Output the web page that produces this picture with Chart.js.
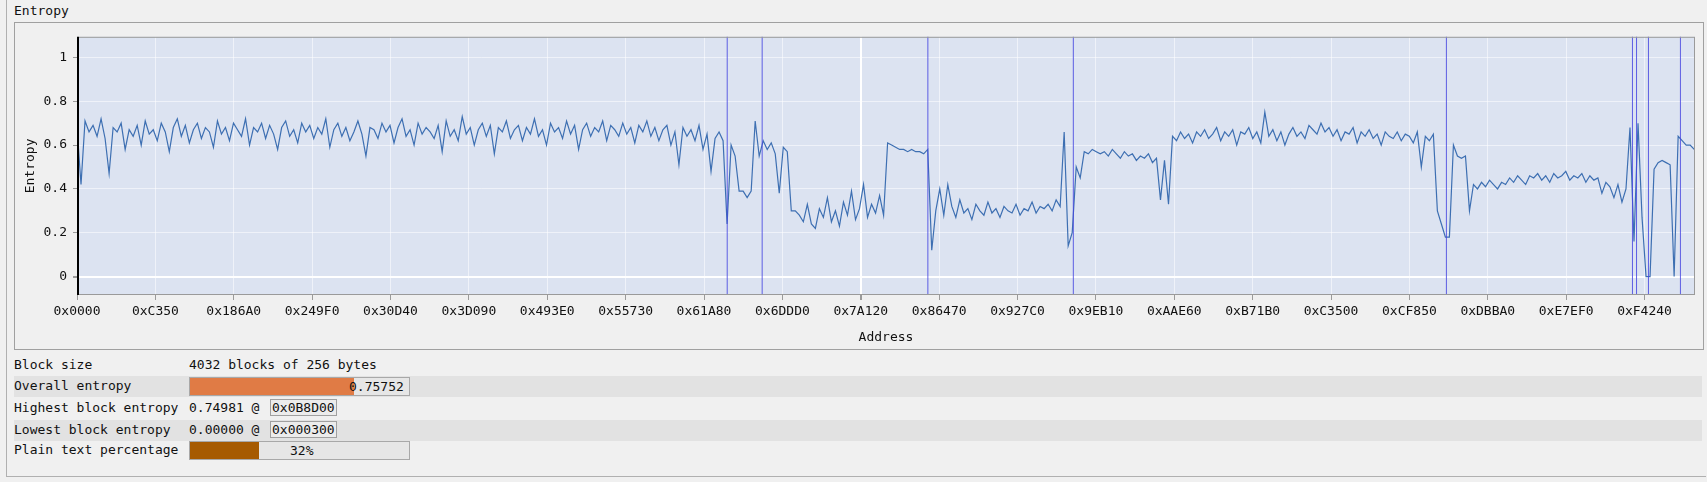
<!DOCTYPE html>
<html>
<head>
<meta charset="utf-8">
<script src="https://cdn.jsdelivr.net/npm/chart.js@4"></script>
<style>
  body { margin: 0; background: #f0f0f0; font-family: "DejaVu Sans Mono", monospace; font-size: 13px; color: #111; }
  #wrap { position: relative; width: 1707px; height: 482px; overflow: hidden; }
  .abs { position: absolute; white-space: pre; }
  #outer { left: 6px; top: 0; width: 1699px; height: 476px; border-left: 1px solid #b0b0b0; border-bottom: 1px solid #b0b0b0; }
  #panel { left: 14px; top: 22px; width: 1688px; height: 326px; border: 1px solid #a0a0a0; }
  #chart { display: block; }
  .row { left: 14px; width: 1688px; height: 21px; }
  .shade { background: #e2e2e2; }
  .bar { height: 17px; border: 1px solid #a8a8a8; background: #e6e6e6; }
  .box { border: 1px solid #a0a0a0; background: #ececec; line-height: 15px; padding: 0 1px; }
</style>
</head>
<body>
<div id="wrap">
  <div class="abs" id="outer"></div>
  <div class="abs" style="left:14px;top:3px;">Entropy</div>
  <div class="abs" id="panel"><canvas id="chart" width="1688" height="326"></canvas></div>

  <div class="abs row" style="top:356px;"></div>
  <div class="abs row shade" style="top:376px;"></div>
  <div class="abs row" style="top:398px;"></div>
  <div class="abs row shade" style="top:420px;"></div>
  <div class="abs row" style="top:441px;"></div>

  <div class="abs" style="left:14px;top:357px;">Block size</div>
  <div class="abs" style="left:189px;top:357px;">4032 blocks of 256 bytes</div>

  <div class="abs" style="left:14px;top:378px;">Overall entropy</div>
  <div class="abs bar" style="left:189px;top:377px;width:219px;"></div>
  <div class="abs" id="overallFill" style="left:190px;top:378px;height:17px;background:#e07b45;"></div>
  <div class="abs" id="overallText" style="left:349px;top:379px;"></div>

  <div class="abs" style="left:14px;top:400px;">Highest block entropy</div>
  <div class="abs" id="highText" style="left:189px;top:400px;"></div>
  <div class="abs box" id="highAddr" style="left:270px;top:399px;"></div>

  <div class="abs" style="left:14px;top:422px;">Lowest block entropy</div>
  <div class="abs" id="lowText" style="left:189px;top:422px;"></div>
  <div class="abs box" id="lowAddr" style="left:270px;top:421px;"></div>

  <div class="abs" style="left:14px;top:442px;">Plain text percentage</div>
  <div class="abs bar" style="left:189px;top:441px;width:219px;"></div>
  <div class="abs" id="plainFill" style="left:190px;top:442px;height:17px;background:#a65a00;"></div>
  <div class="abs" id="plainText" style="left:290px;top:443px;"></div>
</div>
<script>
// one sample every 10 blocks of 256 bytes
const blockSize = 256;
const sampleStep = 2560;
const fileSize = 4032 * blockSize;

const entropy = [
  0.68,0.42,0.71,0.66,0.69,0.64,0.72,0.63,0.47,0.68,
  0.66,0.70,0.58,0.67,0.64,0.69,0.60,0.71,0.65,0.67,
  0.62,0.70,0.66,0.57,0.68,0.72,0.64,0.69,0.61,0.67,
  0.70,0.63,0.68,0.66,0.59,0.71,0.65,0.68,0.62,0.70,
  0.67,0.64,0.72,0.60,0.68,0.66,0.70,0.63,0.69,0.65,
  0.58,0.68,0.71,0.64,0.67,0.61,0.70,0.66,0.69,0.63,
  0.68,0.65,0.72,0.59,0.67,0.70,0.64,0.68,0.62,0.66,
  0.71,0.65,0.55,0.68,0.67,0.63,0.70,0.66,0.69,0.61,
  0.68,0.72,0.64,0.67,0.60,0.70,0.65,0.68,0.66,0.63,
  0.69,0.57,0.71,0.64,0.67,0.62,0.73,0.65,0.68,0.60,
  0.67,0.70,0.64,0.69,0.56,0.68,0.66,0.71,0.63,0.67,
  0.69,0.62,0.68,0.65,0.72,0.64,0.67,0.60,0.70,0.66,
  0.68,0.63,0.71,0.65,0.69,0.58,0.67,0.70,0.64,0.68,
  0.66,0.71,0.62,0.69,0.67,0.64,0.70,0.65,0.68,0.61,
  0.69,0.66,0.71,0.64,0.68,0.62,0.67,0.69,0.60,0.66,
  0.51,0.68,0.64,0.67,0.62,0.69,0.58,0.65,0.48,0.63,
  0.66,0.62,
  0.24,0.60,0.55,0.39,0.39,0.36,0.39,0.71,0.55,0.62,0.58,0.61,0.56,0.38,0.59,0.57,
  0.30,0.30,0.28,0.25,0.33,0.24,0.22,0.31,0.27,0.36,0.25,0.30,0.23,0.34,0.28,0.39,
  0.26,0.31,0.42,0.27,0.33,0.29,0.37,0.28,
  0.61,0.60,0.59,0.58,0.58,0.57,0.58,0.57,0.57,0.56,0.58,
  0.12,0.30,0.40,0.28,0.42,0.32,0.27,0.35,0.29,0.31,0.26,0.33,0.30,0.28,0.34,0.29,
  0.31,0.27,0.32,0.30,0.29,0.33,0.28,0.31,0.30,0.34,0.29,0.32,0.31,0.33,0.30,0.35,0.32,
  0.66,0.14,0.20,0.50,0.45,0.57,0.56,0.58,0.57,
  0.56,0.57,0.55,0.58,0.56,0.54,0.57,0.55,0.56,0.53,0.55,0.54,0.56,0.52,0.54,0.35,0.53,0.33,
  0.64,0.62,0.66,0.63,0.65,0.61,0.66,0.64,0.67,0.63,
  0.65,0.68,0.62,0.66,0.64,0.67,0.60,0.66,0.65,0.68,
  0.63,0.66,0.61,0.75,0.64,0.67,0.62,0.66,0.60,0.65,
  0.68,0.64,0.66,0.63,0.69,0.67,0.65,0.70,0.66,0.68,
  0.64,0.67,0.62,0.66,0.65,0.68,0.61,0.66,0.64,0.67,
  0.63,0.65,0.60,0.66,0.64,0.63,0.66,0.62,0.65,0.64,
  0.61,0.66,0.50,0.64,0.62,0.65,
  0.30,0.24,0.18,0.18,0.60,0.55,0.54,0.55,0.30,
  0.42,0.40,0.43,0.41,0.44,0.42,0.40,0.43,0.42,0.45,
  0.43,0.46,0.44,0.42,0.46,0.45,0.47,0.44,0.46,0.43,
  0.47,0.45,0.46,0.48,0.44,0.46,0.45,0.47,0.43,0.46,
  0.44,0.45,0.38,0.43,0.41,0.36,0.42,0.34,0.40,
  0.68,0.16,0.70,0.27,0.00,0.00,0.49,0.52,0.53,0.52,0.51,0.00,0.64,0.62,0.60,0.60,0.58
];

// region markers drawn across the plot
const markers = [414800, 437100, 542800, 635600, 873600, 992300, 994900, 1002500, 1022900];

const yTicks = [0, 0.2, 0.4, 0.6, 0.8, 1];
const tickStep = 50000;

const overallEntropy = 0.75752;
const highest = { value: 0.74981, addr: 0x0B8D00 };
const lowest = { value: 0.00000, addr: 0x000300 };
const plainTextPct = 32;

const hex = (v, n) => '0x' + v.toString(16).toUpperCase().padStart(n, '0');

document.getElementById('overallFill').style.width = Math.round(217 * overallEntropy) + 'px';
document.getElementById('overallText').textContent = overallEntropy.toFixed(5);
document.getElementById('highText').textContent = highest.value.toFixed(5) + ' @';
document.getElementById('highAddr').textContent = hex(highest.addr, 6);
document.getElementById('lowText').textContent = lowest.value.toFixed(5) + ' @';
document.getElementById('lowAddr').textContent = hex(lowest.addr, 6);
document.getElementById('plainFill').style.width = Math.round(217 * plainTextPct / 100) + 'px';
document.getElementById('plainText').textContent = plainTextPct + '%';

const points = entropy.map((v, i) => ({ x: i * sampleStep, y: v }));

const markerPts = [];
markers.forEach(a => { markerPts.push({ x: a, y: -1 }, { x: a, y: 2 }, { x: a, y: null }); });

const plotBg = {
  id: 'plotBg',
  beforeDraw(chart) {
    const { ctx, chartArea: a } = chart;
    ctx.save();
    ctx.fillStyle = '#dce3f1';
    ctx.fillRect(a.left, a.top, a.right - a.left, a.bottom - a.top);
    ctx.restore();
  },
  afterDraw(chart) {
    const { ctx, chartArea: a } = chart;
    ctx.save();
    ctx.strokeStyle = '#9a9a9a';
    ctx.lineWidth = 1;
    ctx.strokeRect(a.left + 0.5, a.top + 0.5, a.right - a.left - 1, a.bottom - a.top - 1);
    // black cursor on the left edge
    ctx.fillStyle = '#000';
    ctx.fillRect(a.left, a.top, 2, a.bottom - a.top);
    ctx.restore();
  }
};

const font = { family: '"DejaVu Sans Mono", monospace', size: 13 };

new Chart(document.getElementById('chart'), {
  type: 'line',
  data: {
    datasets: [
      { data: points, borderColor: '#3d6fb2', borderWidth: 1.2, pointRadius: 0, tension: 0, order: 2 },
      { data: markerPts, borderColor: 'rgba(70,70,225,0.85)', borderWidth: 1, pointRadius: 0, spanGaps: false, order: 1 }
    ]
  },
  options: {
    responsive: false,
    animation: false,
    devicePixelRatio: 1,
    layout: { padding: { top: 6, right: 8, left: 0, bottom: 0 } },
    plugins: { legend: { display: false }, tooltip: { enabled: false } },
    scales: {
      x: {
        type: 'linear', min: 0, max: fileSize,
        afterFit(s) { s.height = 54; },
        afterBuildTicks(s) { s.ticks = []; for (let v = 0; v <= fileSize; v += tickStep) s.ticks.push({ value: v }); },
        ticks: { color: '#111', font, maxRotation: 0, autoSkip: false, padding: 4, callback: v => hex(v, 4) },
        grid: {
          color: c => c.tick && c.tick.value === 500000 ? '#ffffff' : 'rgba(255,255,255,0.55)',
          lineWidth: c => c.tick && c.tick.value === 500000 ? 2 : 1,
          tickLength: 5, tickColor: '#9a9a9a'
        },
        border: { display: false },
        title: { display: true, text: 'Address', color: '#111', font, padding: { top: 0 } }
      },
      y: {
        min: -0.084, max: 1.094,
        afterFit(s) { s.width = 62; },
        afterBuildTicks(s) { s.ticks = yTicks.map(v => ({ value: v })); },
        ticks: { color: '#111', font, padding: 6, callback: v => String(v) },
        grid: {
          color: c => c.tick && c.tick.value === 0 ? '#ffffff' : 'rgba(255,255,255,0.55)',
          lineWidth: c => c.tick && c.tick.value === 0 ? 2 : 1,
          tickLength: 4, tickColor: '#9a9a9a'
        },
        border: { display: false },
        title: { display: true, text: 'Entropy', color: '#111', font, padding: { top: 8, bottom: 0 } }
      }
    }
  },
  plugins: [plotBg]
});
</script>
</body>
</html>
